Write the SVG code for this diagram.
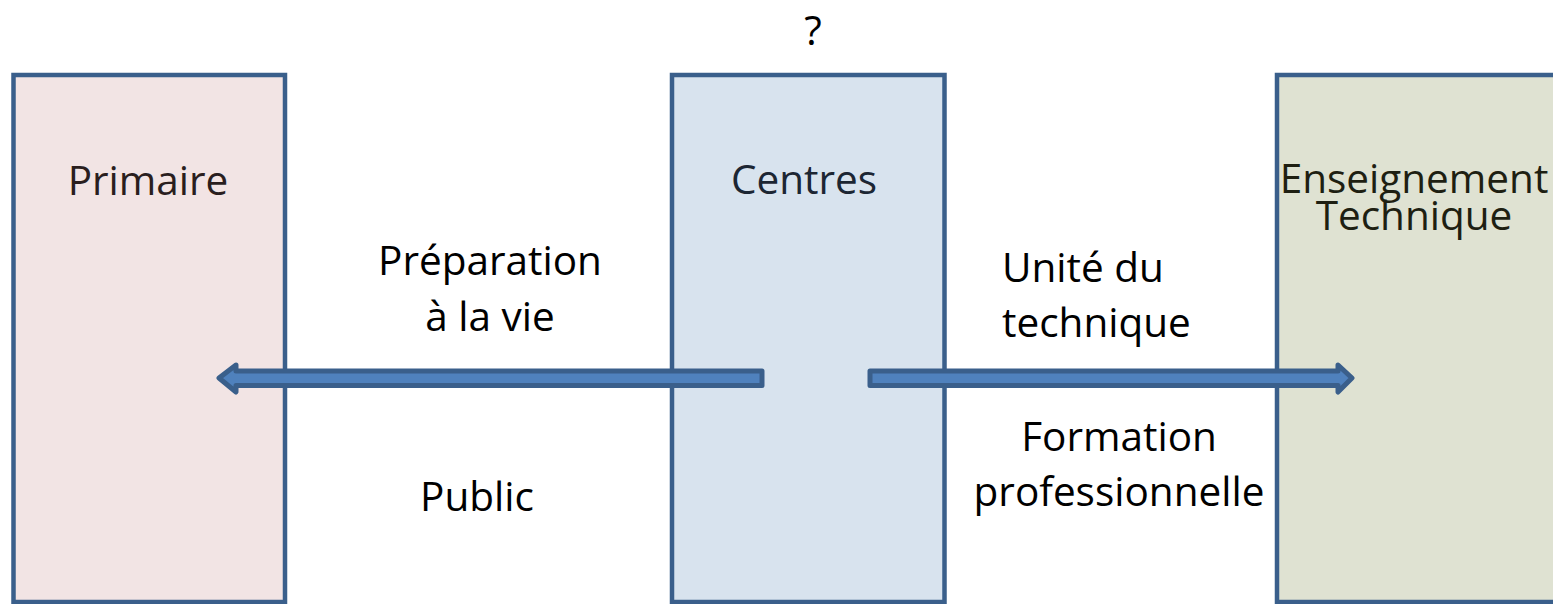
<svg xmlns="http://www.w3.org/2000/svg" width="1553" height="604" viewBox="0 0 1553 604">
<style>
.box{stroke:#3A5F8B;stroke-width:4.5}
.arr{fill:#4F81BD;stroke:#3A5F8B;stroke-width:5;stroke-linejoin:round}
text{font-family:"Open Sans","Noto Sans","Liberation Sans",sans-serif;font-size:40.5px;text-anchor:middle}
.lbl{fill:#000}
.st{text-anchor:start}
</style>
<rect width="1553" height="604" fill="#fff"/>
<g id="node-primaire">
<rect class="box" x="13.5" y="75" width="271.5" height="527" fill="#F2E4E4"/>
<text x="148" y="195" fill="#2A1E1E">Primaire</text>
</g>
<g id="node-centres">
<rect class="box" x="672" y="75" width="272.5" height="527" fill="#D8E3EE"/>
<text x="804" y="194" fill="#1C2633">Centres</text>
</g>
<g id="node-enseignement">
<rect class="box" x="1277" y="75" width="300" height="527" fill="#DFE2D2"/>
<text x="1414" y="193" fill="#1E1F12">Enseignement</text>
<text x="1414" y="230" fill="#1E1F12">Technique</text>
</g>
<g id="connectors">
<polygon class="arr" points="762,371 236,371 236,365 219,378 236,392 236,385.5 762,385.5"/>
<polygon class="arr" points="870,371 1338,371 1338,365 1352,378 1338,392 1338,385.5 870,385.5"/>
</g>
<g id="labels">
<text class="lbl" x="813" y="45">?</text>
<text class="lbl" x="490" y="275">Préparation</text>
<text class="lbl" x="490" y="331">à la vie</text>
<text class="lbl" x="477" y="511">Public</text>
<text class="lbl st" x="1002" y="282">Unité du</text>
<text class="lbl st" x="1002" y="337">technique</text>
<text class="lbl" x="1119" y="451">Formation</text>
<text class="lbl" x="1119" y="506">professionnelle</text>
</g>
</svg>
